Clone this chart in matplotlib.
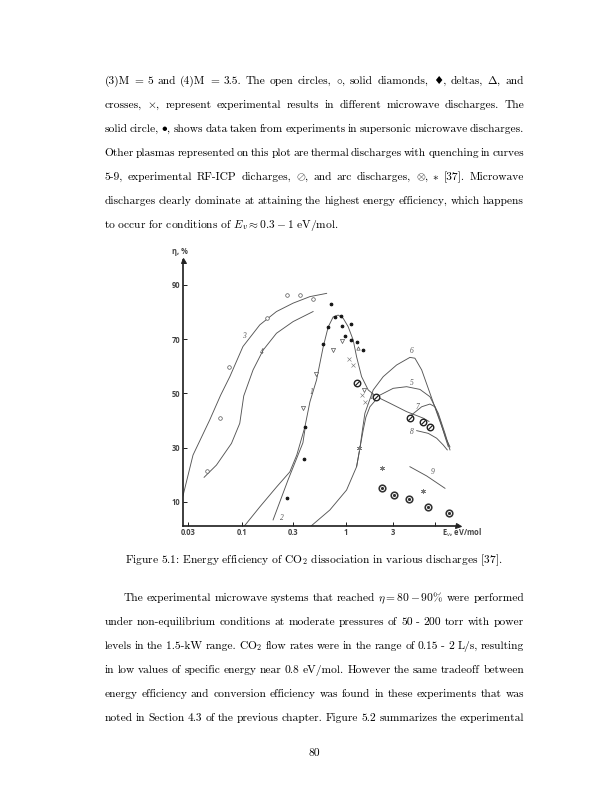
import matplotlib

matplotlib.use("Agg")
import matplotlib.pyplot as plt
import numpy as np
from matplotlib.transforms import IdentityTransform

# ---- chart data: E_v (eV/mol) vs eta (%) ----
curve1_x = [0.105, 0.146, 0.210, 0.281, 0.328, 0.394, 0.442, 0.514, 0.597, 0.669, 0.749, 0.839,
            0.941, 1.055, 1.186, 1.284, 1.443, 1.684, 2.049, 2.797, 4.44, 7.15, 8.42]
curve1_y = [1.3, 8.2, 15.5, 21.1, 27.3, 37.6, 46.9, 55.0, 67.1, 74.5, 78.2, 78.9,
            77.7, 74.6, 69.7, 63.5, 56.2, 51.3, 48.8, 46.4, 43.3, 40.9, 39.7]
curve2_x = [0.195, 0.270, 0.377, 0.394]
curve2_y = [3.4, 18.1, 31.8, 36.5]
curve3_x = [0.027, 0.0337, 0.0486, 0.0619, 0.0757, 0.101, 0.146, 0.210, 0.302, 0.442, 0.646]
curve3_y = [12.2, 27.3, 40.2, 49.4, 56.2, 67.3, 75.3, 80.2, 83.3, 85.7, 86.9]
curve4_x = [0.043, 0.0564, 0.0785, 0.0942, 0.1028, 0.126, 0.157, 0.210, 0.302, 0.475]
curve4_y = [19.1, 23.6, 31.6, 39.0, 49.1, 58.7, 66.0, 72.2, 76.5, 80.2]
curve5_x = [1.284, 1.387, 1.498, 1.596, 1.753, 2.214, 3.025, 4.44, 6.50, 8.66, 10.99, 13.32, 15.37]
curve5_y = [23.0, 29.8, 36.5, 41.3, 45.1, 49.4, 51.9, 52.5, 51.5, 48.8, 42.7, 35.3, 29.2]
curve6_x = [0.459, 0.695, 1.016, 1.284, 1.387, 1.471, 1.559, 1.893, 2.391, 3.334, 4.88, 5.63,
            6.83, 8.66, 10.99, 13.98, 15.37]
curve6_y = [1.3, 7.05, 14.4, 23.0, 29.8, 36.5, 42.7, 51.3, 56.2, 60.5, 63.3, 63.0,
            58.7, 50.1, 41.4, 32.9, 30.3]
curve7_x = [5.13, 6.83, 8.66, 10.0, 11.54, 13.32, 14.64]
curve7_y = [42.1, 45.1, 46.1, 45.1, 40.2, 34.1, 30.4]
curve8_x = [5.92, 8.25, 10.5, 12.68, 14.22]
curve8_y = [36.3, 35.3, 33.5, 31.0, 29.2]
curve9_x = [4.88, 7.88, 13.32]
curve9_y = [23.0, 19.6, 15.05]

open_circle_x = [0.0463, 0.0616, 0.0740, 0.171, 0.267, 0.354, 0.4725]
open_circle_y = [21.5, 41.1, 59.7, 77.7, 86.3, 86.2, 84.8]
dot_x = [0.7065, 0.788, 0.893, 0.669, 0.907, 1.124, 0.989, 1.116, 1.302, 1.488, 0.597, 0.394, 0.388, 0.267]
dot_y = [82.9, 78.3, 78.4, 74.6, 74.9, 75.5, 71.2, 69.6, 69.0, 66.0, 68.1, 37.5, 25.9, 11.4]
delta_x = [0.907, 0.745, 0.502, 0.379, 1.533]
delta_y = [69.4, 66.0, 57.1, 44.5, 51.3]
delta_up_x = [1.339]
delta_up_y = [66.7]
cross_x = [1.080, 1.169, 1.443, 1.577]
cross_y = [62.6, 60.4, 49.4, 46.9]
rf_icp_x = [1.293, 2.040, 4.88, 7.09, 8.66]
rf_icp_y = [53.7, 48.8, 40.8, 39.5, 37.5]
arc_x = [2.304, 3.087, 4.79, 8.25, 15.07]
arc_y = [15.05, 12.6, 11.0, 8.27, 6.06]
star_x = [1.371, 2.304, 7.15]
star_y = [29.8, 22.4, 14.2]

label_text = ["3", "4", "1", "2", "6", "5", "7", "8", "9", "1"]
label_x = [0.1035, 0.151, 0.459, 0.234, 5.13, 5.13, 6.02, 5.13, 9.44, 1.823]
label_y = [71.2, 65.4, 50.7, 4.2, 65.5, 54.0, 45.1, 35.8, 21.2, 48.6]

x_ticks = [0.03, 0.1, 0.3, 1, 3, 10]
x_tick_labels = ["0.03", "0.1", "0.3", "1", "3", ""]
y_ticks = [10, 30, 50, 70, 90]

# ---- page text ----
para1 = [
    "(3)M = 5 and (4)M = 3.5.  The open circles, $\\circ$, solid diamonds, \u2666, deltas, $\\Delta$, and",
    "crosses, $\\times$, represent experimental results in different microwave discharges.  The",
    "solid circle, $\\bullet$, shows data taken from experiments in supersonic microwave discharges.",
    "Other plasmas represented on this plot are thermal discharges with quenching in curves",
    "5-9, experimental RF-ICP dicharges, $\\oslash$, and arc discharges, $\\otimes,\\ast$ [37].  Microwave",
    "discharges clearly dominate at attaining the highest energy efficiency, which happens",
]
para1_last = "to occur for conditions of $E_v \\approx 0.3 - 1$ eV/mol."
caption = "Figure 5.1: Energy efficiency of CO$_2$ dissociation in various discharges [37]."
para2 = [
    "The experimental microwave systems that reached $\\eta=80-90\\%$ were performed",
    "under non-equilibrium conditions at moderate pressures of 50 - 200 torr with power",
    "levels in the 1.5-kW range.  CO$_2$ flow rates were in the range of 0.15 - 2 L/s, resulting",
    "in low values of specific energy near 0.8 eV/mol. However the same tradeoff between",
    "energy efficiency and conversion efficiency was found in these experiments that was",
    "noted in Section 4.3 of the previous chapter.  Figure 5.2 summarizes the experimental",
]
page_number = "80"

PAGE_W, PAGE_H = 612, 792
BODY_FONT = ["cmr10", "DejaVu Sans"]
BODY_SIZE = 11.45
CHART_FONT = ["Open Sans", "DejaVu Sans"]
plt.rcParams["mathtext.fontset"] = "cm"
plt.rcParams["axes.unicode_minus"] = False

# the printed axis is only roughly logarithmic: map decades to where the ticks sit
SCALE_LOG = np.log10([0.01, 0.03, 0.1, 0.3, 1, 3, 10, 100])
SCALE_POS = np.array([138.1, 188, 242.7, 293, 346, 393, 435, 515.3])


def _forward(x):
    x = np.clip(np.asarray(x, dtype=float), 1e-6, None)
    return np.interp(np.log10(x), SCALE_LOG, SCALE_POS)


def _inverse(p):
    return 10 ** np.interp(np.asarray(p, dtype=float), SCALE_POS, SCALE_LOG)


fig = plt.figure(figsize=(PAGE_W / 72, PAGE_H / 72), dpi=72)
renderer = fig.canvas.get_renderer()


def put_text(s, x, y, **kw):
    kw.setdefault("fontsize", BODY_SIZE)
    kw.setdefault("family", BODY_FONT)
    return fig.text(x, PAGE_H - y, s, transform=IdentityTransform(), **kw)


def body_line(line, y, x0=104.5, x1=524.0):
    words = [w for w in line.split(" ") if w]
    items = [put_text(w, 0, y, va="baseline") for w in words]
    widths = [t.get_window_extent(renderer).width for t in items]
    gap = (x1 - x0 - sum(widths)) / (len(words) - 1)
    x = x0
    for t, w in zip(items, widths):
        t.set_position((x, PAGE_H - y))
        x += w + gap


base = 3.8
for i, line in enumerate(para1):
    body_line(line, 80 + 24.0 * i + base)
put_text(para1_last, 104.5, 224 + base, va="baseline")
put_text(caption, 314, 559 + base, va="baseline", ha="center")
for i, line in enumerate(para2):
    body_line(line, 597.3 + 23.9 * i + base, x0=123.3 if i == 0 else 104.5)
put_text(page_number, 314, 752 + base, va="baseline", ha="center")

# ---- chart ----
ax = fig.add_axes([182.7 / PAGE_W, (PAGE_H - 525.7) / PAGE_H, 275.3 / PAGE_W, 265.7 / PAGE_H])
ax.patch.set_alpha(0)
ax.set_xscale("function", functions=(_forward, _inverse))
ax.set_xlim(0.02686, 19.34)
ax.set_ylim(1.26, 99.2)

line_kw = dict(color="#555555", lw=0.9)
for cx, cy in [(curve1_x, curve1_y), (curve2_x, curve2_y), (curve3_x, curve3_y),
               (curve4_x, curve4_y), (curve5_x, curve5_y), (curve6_x, curve6_y),
               (curve7_x, curve7_y), (curve8_x, curve8_y), (curve9_x, curve9_y)]:
    ax.plot(cx, cy, **line_kw)

ax.plot(open_circle_x, open_circle_y, "o", ms=3.6, mfc="white", mec="#555555", mew=0.7)
ax.plot(dot_x, dot_y, "o", ms=2.7, color="#111111")
ax.plot(delta_x, delta_y, "v", ms=4.2, mfc="white", mec="#555555", mew=0.7)
ax.plot(delta_up_x, delta_up_y, "^", ms=3.4, mfc="white", mec="#555555", mew=0.7)
ax.plot(cross_x, cross_y, "x", ms=3.2, color="#777777", mew=0.6)
ax.plot(rf_icp_x, rf_icp_y, "o", ms=6.5, mfc="white", mec="#222222", mew=1.4)
ax.plot(rf_icp_x, rf_icp_y, marker=[(-1, -1), (1, 1)], ls="none", ms=4.4, mec="#222222", mew=1.2)
ax.plot(arc_x, arc_y, "o", ms=6.6, mfc="white", mec="#333333", mew=1.6)
ax.plot(arc_x, arc_y, "o", ms=2.1, color="#333333")
ax.plot(star_x, star_y, marker=(6, 2, 0), ls="none", ms=5, mec="#777777", mew=0.7)

for s, lx, ly in zip(label_text, label_x, label_y):
    ax.text(lx, ly, s, fontsize=7.5, style="italic", family="Liberation Serif",
            color="#555555", ha="center", va="center")

for side in ("top", "right"):
    ax.spines[side].set_visible(False)
for side in ("left", "bottom"):
    ax.spines[side].set_linewidth(1.7)
    ax.spines[side].set_color("#222222")
ax.plot(1, 0, ">", transform=ax.transAxes, clip_on=False, ms=5, color="#222222")
ax.plot(0, 1, "^", transform=ax.transAxes, clip_on=False, ms=5, color="#222222")

ax.set_xticks(x_ticks)
ax.set_xticklabels(x_tick_labels)
ax.set_yticks(y_ticks)
ax.minorticks_off()
ax.tick_params(direction="in", length=4, width=1, color="#222222",
               labelsize=7.5, labelcolor="#444444", pad=2.5)
for lab in ax.get_xticklabels() + ax.get_yticklabels():
    lab.set_family(CHART_FONT)
    lab.set_fontweight("bold")

put_text("\u03b7, %", 172, 252, va="center", ha="left", fontsize=7.5,
         family=CHART_FONT, color="#444444", fontweight="bold")
put_text("E$_v$, eV/mol", 482, 532.5, va="center", ha="right", fontsize=7.5,
         family=CHART_FONT, color="#444444", fontweight="bold", math_fontfamily="dejavusans")

fig.savefig("out.png", dpi=72)
